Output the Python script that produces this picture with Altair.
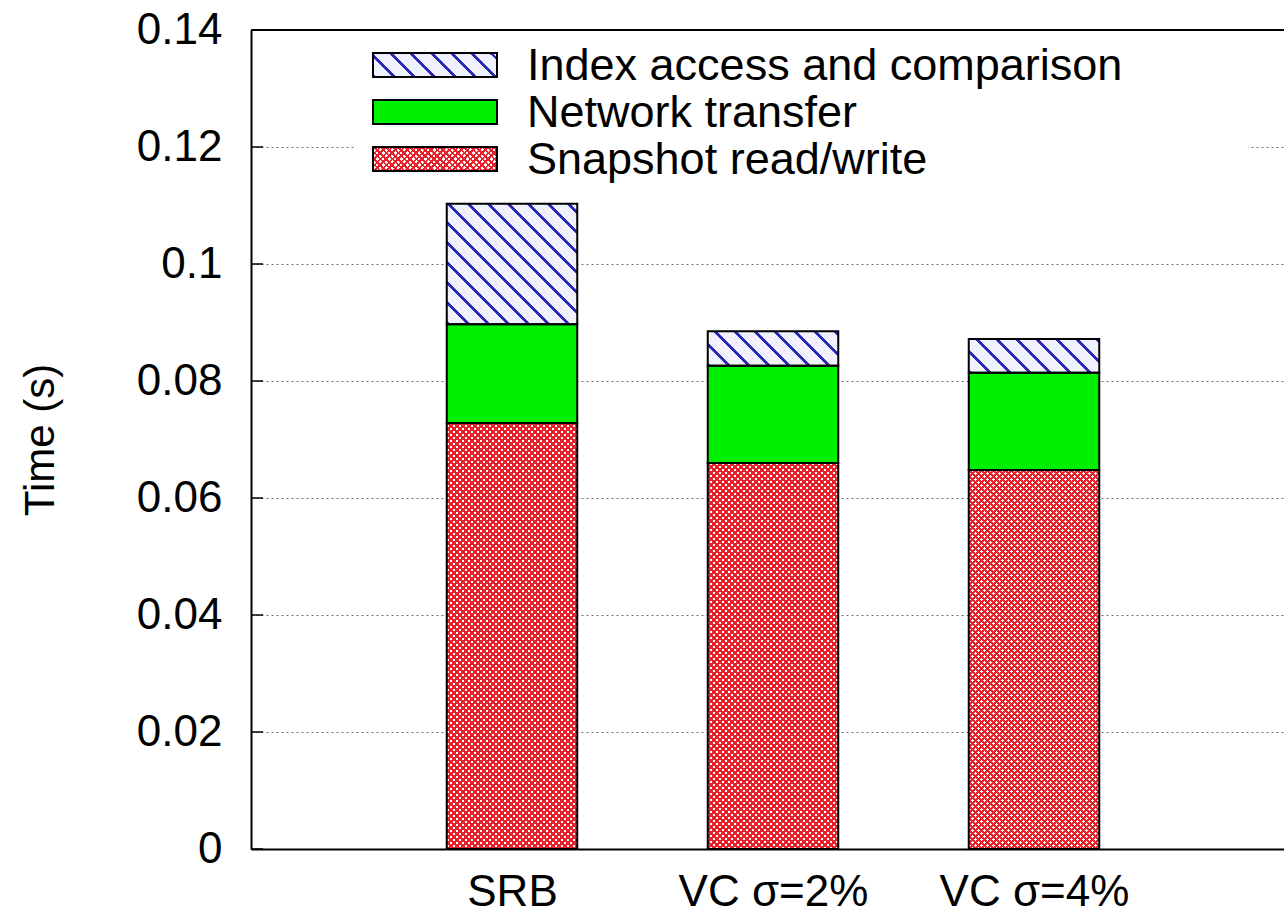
import altair as alt
import pandas as pd

# ---- data -------------------------------------------------------------
categories = ["SRB", "VC σ=2%", "VC σ=4%"]
positions = [1, 2, 3]
snapshot_rw = [0.0728, 0.0660, 0.0648]
network_transfer = [0.0169, 0.0166, 0.0166]
index_access = [0.0206, 0.0059, 0.0058]
series_labels = ["Index access and comparison", "Network transfer", "Snapshot read/write"]
y_ticks = [0, 0.02, 0.04, 0.06, 0.08, 0.1, 0.12, 0.14]

# ---- geometry ---------------------------------------------------------
PLOT_W = 1033          # visible part of the plot area
PLOT_W_FULL = 1044     # full width of x range [0, 4]
PLOT_H = 819
X_MAX = 4 * PLOT_W / PLOT_W_FULL
Y_MAX = 0.14
BOX = 0.5              # bar width in x units
PX_X = PLOT_W / X_MAX
PX_Y = PLOT_H / Y_MAX
SQ2 = 2 ** 0.5

FONT = "Liberation Sans"
RED = "#e8222a"
GREEN = "#00f000"
BLUE = "#2a2ab8"
LAVENDER = "#f1f1ff"
CLEAR_RED = "rgba(232,34,42,0)"
CLEAR_BLUE = "rgba(42,42,184,0)"

rows = []
for cat, pos, s, n, i in zip(categories, positions, snapshot_rw, network_transfer, index_access):
    base = 0.0
    for seg, v in (("snapshot", s), ("network", n), ("index", i)):
        rows.append(dict(cat=cat, pos=pos, seg=seg, lo=base, hi=base + v))
        base += v
df = pd.DataFrame(rows)


def stripes(w, h, period, frac, color, clear, slope):
    """Linear gradient drawing diagonal lines at 45 degrees over a w x h box."""
    n = (w + h) / SQ2 / period
    c = (w + h) / (w * w + h * h)
    if slope == "\\":
        x1, y1, x2, y2 = 0, 1, c * w, 1 - c * h
    else:
        x1, y1, x2, y2 = 0, 0, c * w, c * h
    stops = []
    k = 0
    while k < n:
        a = round(k / n, 6)
        b = round(min((k + frac) / n, 1), 6)
        e = round(min((k + 1) / n, 1), 6)
        stops += [
            {"offset": a, "color": color},
            {"offset": b, "color": color},
            {"offset": b, "color": clear},
            {"offset": e, "color": clear},
        ]
        k += 1
    return {"gradient": "linear", "x1": x1, "y1": y1, "x2": x2, "y2": y2, "stops": stops}


def crosshatch(w, h):
    # 6 px repeat horizontally and vertically
    return [stripes(w, h, 6 / SQ2, 0.45, RED, CLEAR_RED, "/"),
            stripes(w, h, 6 / SQ2, 0.45, RED, CLEAR_RED, "\\")]


def hatch(w, h):
    return stripes(w, h, 20 / SQ2, 0.2, BLUE, CLEAR_BLUE, "\\")


label_expr = "[''," + ",".join("'" + c + "'" for c in categories) + "][datum.value]"

x_scale = alt.Scale(domain=[0, X_MAX], nice=False, zero=False)
y_scale = alt.Scale(domain=[0, Y_MAX], nice=False)

x_axis = alt.Axis(
    values=positions, labelExpr=label_expr, grid=False, ticks=False, tickSize=0,
    domainColor="black", domainWidth=2, labelFont=FONT, labelFontSize=44,
    labelColor="black", labelBaseline="alphabetic", labelPadding=56, labelLimit=0,
    labelOverlap=False, labelFlush=False, title=None,
)
y_axis = alt.Axis(
    values=y_ticks, format="~g", grid=True, gridDash=[2, 3], gridColor="#6f6f6f",
    gridWidth=1.2, ticks=False, tickSize=0, domainColor="black", domainWidth=2,
    labelFont=FONT, labelFontSize=44, labelColor="black", labelPadding=29, labelLimit=0,
    labelOverlap=False, title="Time (s)", titleFont=FONT, titleFontSize=42,
    titleFontWeight="normal", titleColor="black", titleX=-211, titleY=PLOT_H / 2,
    titleAngle=270, titleAlign="center", titleBaseline="middle",
)

x_enc = dict(x=alt.X("left:Q", scale=x_scale, axis=x_axis), x2="right:Q")
y_enc = dict(y=alt.Y("lo:Q", scale=y_scale, axis=y_axis), y2="hi:Q")

bars_src = alt.Chart(df).transform_calculate(
    left=f"datum.pos - {BOX / 2}", right=f"datum.pos + {BOX / 2}"
)

# base fills of the stacked segments
base = bars_src.mark_rect().encode(
    **x_enc, **y_enc,
    color=alt.Color(
        "seg:N",
        scale=alt.Scale(domain=["snapshot", "network", "index"], range=["#ffffff", GREEN, LAVENDER]),
        legend=None,
    ),
)

# white box behind the key
key_bg = alt.Chart(alt.Data(values=[{}])).mark_rect(color="white").encode(
    x=alt.value(105), x2=alt.value(997), y=alt.value(3), y2=alt.value(156)
)

layers = [base, key_bg]

# pattern overlays, one per segment
for cat, s, i in zip(categories, snapshot_rw, index_access):
    w_px = BOX * PX_X
    for g in crosshatch(w_px, s * PX_Y):
        layers.append(
            bars_src.transform_filter(f"datum.cat == '{cat}' && datum.seg == 'snapshot'")
            .mark_rect(fill=g).encode(**x_enc, **y_enc)
        )
    layers.append(
        bars_src.transform_filter(f"datum.cat == '{cat}' && datum.seg == 'index'")
        .mark_rect(fill=hatch(w_px, i * PX_Y)).encode(**x_enc, **y_enc)
    )

outline = bars_src.mark_rect(filled=False, color="black", strokeWidth=2).encode(**x_enc, **y_enc)
layers.append(outline)

# inward tick marks on the left border
ticks_df = pd.DataFrame({"lo": y_ticks})
left_ticks = alt.Chart(ticks_df).mark_rule(color="black", strokeWidth=1.5).encode(
    y=alt.Y("lo:Q", scale=y_scale, axis=y_axis),
    x=alt.value(0), x2=alt.value(12),
)
layers.append(left_ticks)

# top border
top_border = alt.Chart(alt.Data(values=[{}])).mark_rule(color="black", strokeWidth=2).encode(
    x=alt.value(0), x2=alt.value(PLOT_W), y=alt.value(0)
)
layers.append(top_border)

# key
SW_X0, SW_X1 = 122, 246
row_tops = [23, 70, 117]
SW_H = 24
text_base = [50, 97, 144]
sw_w = SW_X1 - SW_X0

key_fills = [
    [LAVENDER, hatch(sw_w, SW_H)],
    [GREEN],
    ["#ffffff"] + crosshatch(sw_w, SW_H),
]
one = alt.Data(values=[{}])
for top, fills, label, tb in zip(row_tops, key_fills, series_labels, text_base):
    for f in fills:
        layers.append(
            alt.Chart(one).mark_rect(fill=f).encode(
                x=alt.value(SW_X0), x2=alt.value(SW_X1), y=alt.value(top), y2=alt.value(top + SW_H)
            )
        )
    layers.append(
        alt.Chart(one).mark_rect(filled=False, color="black", strokeWidth=2).encode(
            x=alt.value(SW_X0), x2=alt.value(SW_X1), y=alt.value(top), y2=alt.value(top + SW_H)
        )
    )
    layers.append(
        alt.Chart(one).mark_text(
            text=label, font=FONT, fontSize=45, color="black", align="left", baseline="alphabetic"
        ).encode(x=alt.value(276), y=alt.value(tb))
    )

chart = (
    alt.layer(*layers)
    .properties(
        width=PLOT_W,
        height=PLOT_H,
        padding={"left": 251, "top": 30, "right": 0, "bottom": 65},
        autosize=alt.AutoSizeParams(type="none"),
        background="white",
    )
    .configure_view(stroke=None)
)

chart.save("out.html", embed_options={"renderer": "svg", "actions": False})
